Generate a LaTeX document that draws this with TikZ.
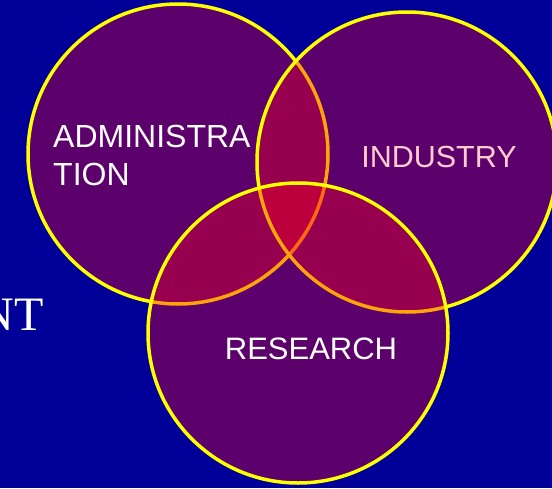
\documentclass[tikz,border=0pt]{standalone}
\usepackage{fontspec}
\setmainfont{Liberation Serif}
\newfontfamily\labelfont{Liberation Sans}
\definecolor{bgblue}{RGB}{0,0,153}
\definecolor{vennred}{RGB}{255,0,30}
\definecolor{vennline}{RGB}{255,255,0}
\definecolor{pinktext}{RGB}{255,205,205}
\begin{document}
\begin{tikzpicture}[x=1pt, y=-1pt,
  venn/.style={circle, inner sep=0pt, minimum size=300pt, draw=vennline,
    line width=3.5pt, fill=vennred, fill opacity=0.36},
  vlabel/.style={inner sep=0pt, text=white, font=\labelfont\fontsize{31}{38}\selectfont}]
% Set the page and the background
\useasboundingbox (0, 0) rectangle (552, 488);
\clip (0, 0) rectangle (552, 488);
\fill[bgblue] (0, 0) rectangle (552, 488);

% Left over text of the slide
\node[anchor=base east, inner sep=0pt, text=white, font=\fontsize{48}{50}\selectfont] (rest) at (44, 330) {NT};

% Draw the three circles
\node[venn] (admin) at (178, 154) {};
\node[venn] (industry) at (407, 162) {};
\node[venn] (research) at (298, 333) {};

% Put the labels in
\node[vlabel, anchor=north west, align=left, font=\labelfont\fontsize{32}{38}\selectfont] (adminlabel) at (53, 125) {ADMINISTRA\\TION};
\node[vlabel, anchor=base, text=pinktext, font=\labelfont\fontsize{30.5}{36}\selectfont] (industrylabel) at (439, 167) {INDUSTRY};
\node[vlabel, anchor=base] (researchlabel) at (311, 359) {RESEARCH};
\end{tikzpicture}
\end{document}
